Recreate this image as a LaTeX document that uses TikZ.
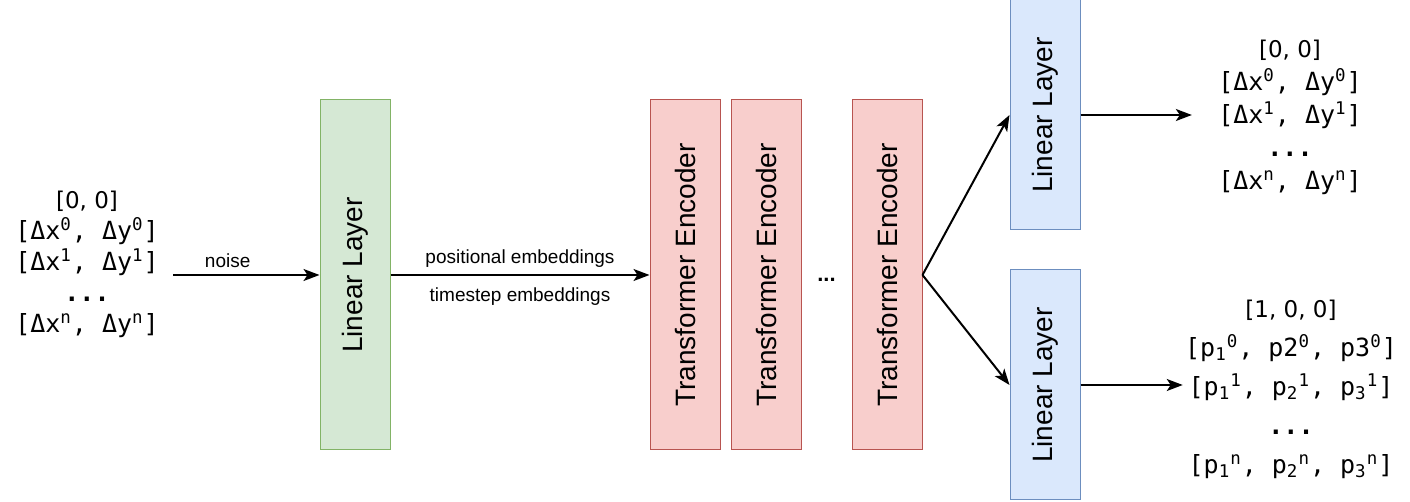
\documentclass[tikz,border=0pt]{standalone}
\usepackage{fontspec}
\setmainfont{Liberation Sans}
\newfontfamily\monofont{DejaVu Sans Mono}
\newfontfamily\plainfont{DejaVu Sans}
\usetikzlibrary{arrows.meta, positioning}

\definecolor{greenfill}{HTML}{D5E8D4}
\definecolor{greenline}{HTML}{82B366}
\definecolor{redfill}{HTML}{F8CECC}
\definecolor{redline}{HTML}{B85450}
\definecolor{bluefill}{HTML}{DAE8FC}
\definecolor{blueline}{HTML}{6C8EBF}

\newcommand{\uplabel}[1]{\rotatebox{90}{#1}}
\newcommand{\skipdots}{{\bfseries ...}}

\begin{document}
\begin{tikzpicture}[
  x=0.5pt, y=-0.5pt,
  layer/.style={draw, line width=0.5pt, minimum width=35pt, inner sep=0pt, font=\fontsize{14}{17}\selectfont},
  greenbox/.style={layer, draw=greenline, fill=greenfill, minimum height=175pt},
  redbox/.style={layer, draw=redline, fill=redfill, minimum height=175pt},
  bluebox/.style={layer, draw=blueline, fill=bluefill, minimum height=115pt},
  vecs/.style={align=center, inner sep=1pt},
  arrow/.style={-{Stealth[length=8pt, width=6pt, inset=2pt]}, line width=1pt},
  edgelabel/.style={font=\fontsize{9.5}{11}\selectfont}
]
\useasboundingbox (0,0) rectangle (1410,502);

% Layers (left to right)
\node[greenbox] (lin) at (355,275) {\uplabel{Linear Layer}};
\node[redbox] (enc1) at (685,275) {\uplabel{Transformer Encoder}};
\node[redbox, right=5pt of enc1] (enc2) {\uplabel{Transformer Encoder}};
\node[redbox, right=25pt of enc2] (enc3) {\uplabel{Transformer Encoder}};
\path (enc2) -- (enc3) node[midway, yshift=-2.5pt, font=\bfseries\fontsize{11}{13}\selectfont] (dots) {...};
\node[bluebox] (linT) at (1045,115) {\uplabel{Linear Layer}};
\node[bluebox] (linB) at (1045,385) {\uplabel{Linear Layer}};

% Input and output vectors
\node[vecs, font=\monofont\fontsize{12.5}{15.5}\selectfont] (inp) at (87,264) {{\plainfont\fontsize{11.5}{15.5}\selectfont [0, 0]}\\
  {[}Δx\textsuperscript{0}, Δy\textsuperscript{0}]\\
  {[}Δx\textsuperscript{1}, Δy\textsuperscript{1}]\\
  \skipdots\\
  {[}Δx\textsuperscript{n}, Δy\textsuperscript{n}]};
\node[vecs, font=\monofont\fontsize{12.5}{16.5}\selectfont] (outT) at (1290,117) {{\plainfont\fontsize{11.5}{16.5}\selectfont [0, 0]}\\
  {[}Δx\textsuperscript{0}, Δy\textsuperscript{0}]\\
  {[}Δx\textsuperscript{1}, Δy\textsuperscript{1}]\\
  \skipdots\\
  {[}Δx\textsuperscript{n}, Δy\textsuperscript{n}]};
\node[vecs, font=\monofont\fontsize{12.5}{19.5}\selectfont] (outB) at (1291,389) {{\plainfont\fontsize{11.5}{19.5}\selectfont [1, 0, 0]}\\
  {[}p\textsubscript{1}\textsuperscript{0}, p2\textsuperscript{0}, p3\textsuperscript{0}]\\
  {[}p\textsubscript{1}\textsuperscript{1}, p\textsubscript{2}\textsuperscript{1}, p\textsubscript{3}\textsuperscript{1}]\\
  \skipdots\\
  {[}p\textsubscript{1}\textsuperscript{n}, p\textsubscript{2}\textsuperscript{n}, p\textsubscript{3}\textsuperscript{n}]};

% Connections
\draw[arrow, shorten <=6pt] (inp.east |- lin) -- (lin) node[edgelabel, pos=0.42, above] {noise};
\draw[arrow] (lin) -- (enc1)
  node[edgelabel, midway, above] {positional embeddings}
  node[edgelabel, midway, below=2.5pt] {timestep embeddings};
\draw[arrow] (enc3.east) -- (linT.west);
\draw[arrow] (enc3.east) -- (linB.west);
\draw[arrow, shorten >=12pt] (linT) -- (linT -| outT.west);
\draw[arrow] (linB) -- (linB -| outB.west);

\end{tikzpicture}
\end{document}
